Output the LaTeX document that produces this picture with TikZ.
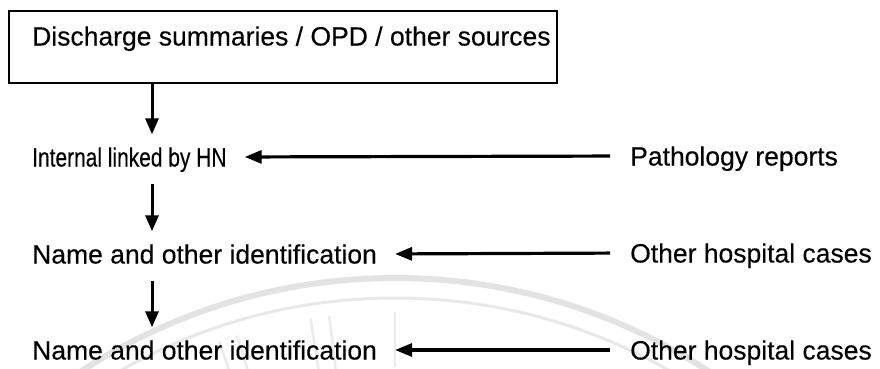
\documentclass[tikz,border=0pt]{standalone}
\usepackage{fontspec}
\usepackage{graphicx}
\setmainfont{Liberation Sans}[FakeBold=0.25]
\newcommand{\squeezed}[1]{\scalebox{0.79}[1]{#1}}
\usetikzlibrary{arrows.meta,calc}
\begin{document}
\begin{tikzpicture}[x=1pt,y=-1pt,
  lbl/.style={inner sep=0pt, text height=19pt, text depth=0pt, anchor=west,
              font=\fontsize{26.5}{30}\selectfont},
  srcbox/.style={draw, line width=2pt, minimum width=548pt, minimum height=72pt,
                 inner sep=0pt, anchor=north west},
  down/.style={line width=3pt, -{Triangle[length=16pt,width=13pt]}},
  feed/.style={line width=3.2pt, -{Triangle[length=17pt,width=13pt]},
               shorten <=20pt, shorten >=18pt},
  seal/.style={gray!22, line width=6pt},
  sealin/.style={gray!18, line width=3pt},
  ray/.style={gray!16, line width=2.5pt}
]
\useasboundingbox (0,0) rectangle (880,368);

% faint seal in the background
\begin{scope}
  \clip (0,0) rectangle (880,368);
  \coordinate (sc) at (395,852);
  \draw[seal] (sc) circle (574pt);
  \draw[sealin] (sc) circle (554pt);
  \foreach \a in {-109,-107,-99,-97,-90}
    \draw[ray] ($(sc)+(\a:485)$) -- ($(sc)+(\a:540)$);
\end{scope}

% source box and its caption
\node[srcbox] (src) at (8,10) {};
\node[lbl] (srctext) at (32,36) {Discharge summaries / OPD / other sources};

% main column
\node[lbl] (hn)  at (32,157) {\squeezed{Internal linked by HN}};
\node[lbl] (id1) at (32,254) {Name and other identification};
\node[lbl] (id2) at (32,350) {Name and other identification};

% feeding sources
\node[lbl] (path) at (630,156) {Pathology reports};
\node[lbl] (oh1)  at (630,253) {Other hospital cases};
\node[lbl] (oh2)  at (630,350) {Other hospital cases};

% downward flow
\coordinate (ax) at (152,0);
\draw[down] (src.south -| ax) -- ($(hn.north -| ax)+(0,-13)$);
\draw[down] ($(hn.south -| ax)+(0,17)$) -- ($(id1.north -| ax)+(0,-13)$);
\draw[down] ($(id1.south -| ax)+(0,17)$) -- ($(id2.north -| ax)+(0,-13)$);

% incoming links
\draw[feed] (path.west) -- (hn.east);
\draw[feed] (oh1.west) -- (id1.east);
\draw[feed] (oh2.west) -- (id2.east);
\end{tikzpicture}
\end{document}
